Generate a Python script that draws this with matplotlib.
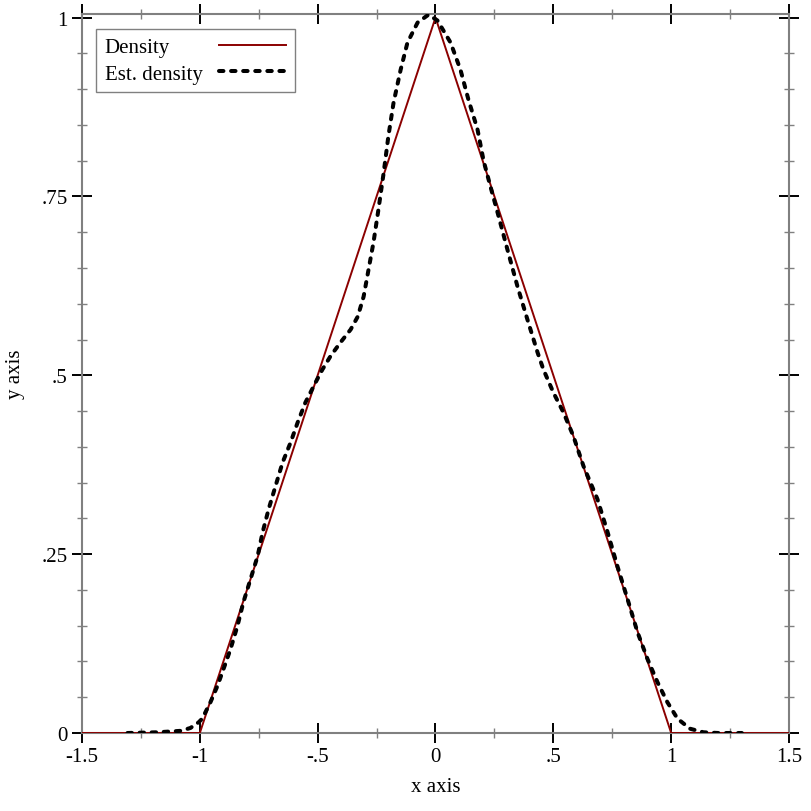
import numpy as np
import matplotlib
matplotlib.use("Agg")
import matplotlib.pyplot as plt

# true density (triangle)
dens_x = [-1.5, -1.0, 0.0, 1.0, 1.5]
dens_y = [0.0, 0.0, 1.0, 0.0, 0.0]

# estimated density
est_x = [-1.307, -1.18, -1.082, -1.04, -1.005, -0.99, -0.955, -0.925, -0.9, -0.87,
         -0.84, -0.815, -0.785, -0.755, -0.734, -0.708, -0.679, -0.649, -0.615,
         -0.585, -0.552, -0.509, -0.48, -0.445, -0.403, -0.36, -0.33, -0.305,
         -0.284, -0.263, -0.242, -0.22, -0.2, -0.178, -0.148, -0.119, -0.076,
         -0.03, 0.008, 0.064, 0.106, 0.14, 0.178, 0.204, 0.233, 0.263, 0.305,
         0.348, 0.39, 0.433, 0.458, 0.50, 0.543, 0.585, 0.628, 0.687, 0.73,
         0.772, 0.815, 0.857, 0.9, 0.942, 0.984, 1.027, 1.08, 1.137, 1.2, 1.30]
est_y = [0.0, 0.001, 0.003, 0.007, 0.015, 0.02, 0.043, 0.066, 0.089, 0.117,
         0.15, 0.183, 0.215, 0.247, 0.28, 0.313, 0.345, 0.378, 0.406,
         0.434, 0.462, 0.49, 0.508, 0.527, 0.546, 0.564, 0.582, 0.61,
         0.648, 0.686, 0.732, 0.783, 0.834, 0.881, 0.927, 0.965, 0.993,
         1.004, 0.996, 0.965, 0.927, 0.885, 0.844, 0.80, 0.764, 0.728, 0.676,
         0.624, 0.578, 0.532, 0.508, 0.476, 0.448, 0.415, 0.373, 0.327, 0.281,
         0.233, 0.187, 0.141, 0.103, 0.071, 0.043, 0.02, 0.006, 0.001, 0.0, 0.0]

xticks = [-1.5, -1.0, -0.5, 0.0, 0.5, 1.0, 1.5]
xtick_labels = ["-1.5", "-1", "-.5", "0", ".5", "1", "1.5"]
yticks = [0.0, 0.25, 0.5, 0.75, 1.0]
ytick_labels = ["0", ".25", ".5", ".75", "1"]

plt.rcParams['font.family'] = ['Liberation Serif', 'DejaVu Serif']
plt.rcParams['font.size'] = 15

fig = plt.figure(figsize=(8.12, 8.12), dpi=100)
ax = fig.add_axes([82/812, 1-734/812, (789-82)/812, (734-15)/812])

ax.plot(dens_x, dens_y, color="#8b0000", lw=1.4, label="Density", zorder=3)
ax.plot(est_x, est_y, color="black", lw=2.9, linestyle=(0, (1.1, 1.9)),
        dash_capstyle="round", label="Est. density", zorder=4)

ax.set_xlim(-1.5, 1.5)
ax.set_ylim(0, 1.005)

ax.set_xticks(xticks)
ax.set_xticklabels(xtick_labels)
ax.set_yticks(yticks)
ax.set_yticklabels(ytick_labels)
ax.set_xticks(np.arange(-1.25, 1.5, 0.5), minor=True)
ax.set_yticks([v for v in np.arange(0, 1.001, 0.05) if round(v / 0.25, 6) % 1 != 0], minor=True)

ax.tick_params(which="major", direction="inout", length=14.4, width=1.4, color="black",
               top=True, right=True, pad=3)
ax.tick_params(which="minor", direction="inout", length=7.2, width=1.0, color="#808080",
               top=True, right=True)
for s in ax.spines.values():
    s.set_color("#808080")
    s.set_linewidth(1.5)

ax.set_xlabel("x axis", labelpad=8)
ax.set_ylabel("y axis", labelpad=12)

leg = ax.legend(loc="upper left", bbox_to_anchor=(14/707, 1-15/719), borderaxespad=0,
                markerfirst=False, handlelength=3.2, fancybox=False, framealpha=1,
                labelspacing=0.32, borderpad=0.42, handletextpad=0.8)
leg.get_frame().set_edgecolor("#808080")
leg.get_frame().set_linewidth(1.0)

# left-align the legend texts, keep the line samples on the right
fig.canvas.draw()
renderer = fig.canvas.get_renderer()
for col in leg._legend_handle_box.get_children():
    rows = col.get_children()
    w = max(r.get_bbox(renderer).width for r in rows)
    col.width = w
    for r in rows:
        r.mode = "expand"

fig.savefig("out.png", dpi=100)
